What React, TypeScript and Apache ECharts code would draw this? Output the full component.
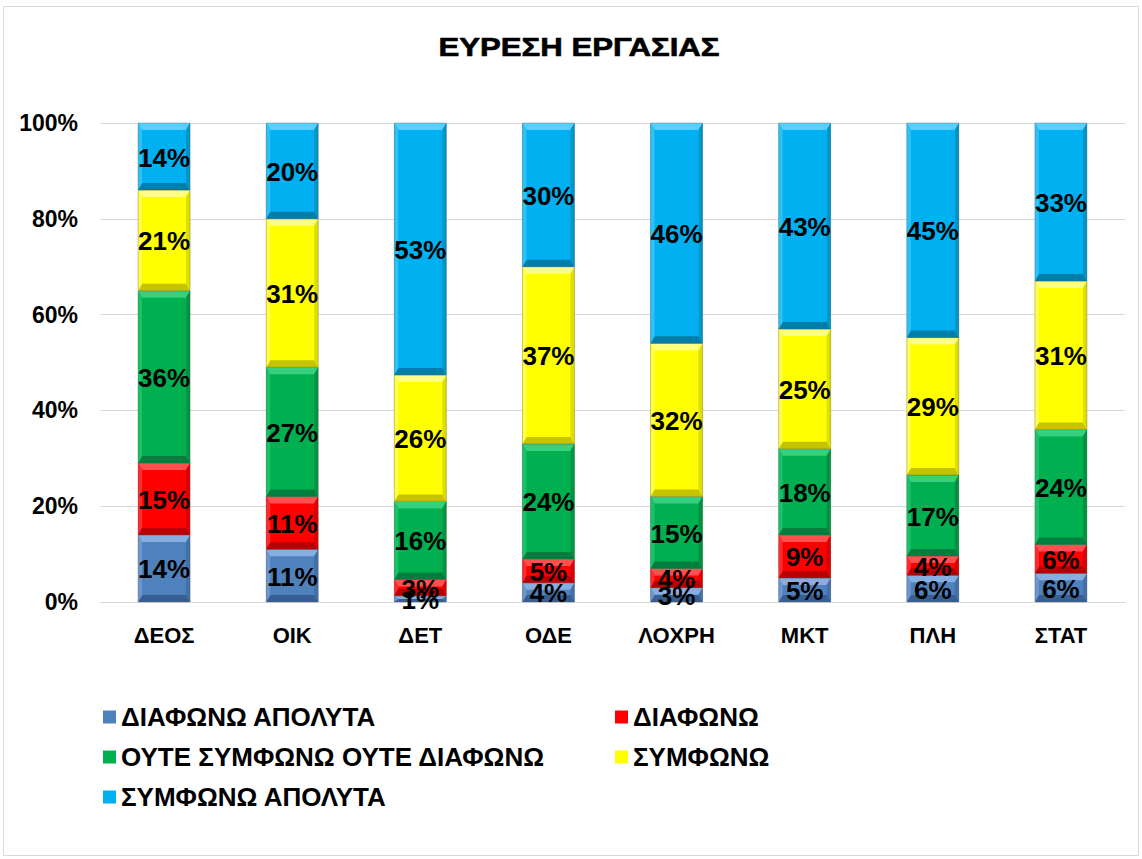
import React, { useEffect, useRef } from "react";
import * as echarts from "echarts";

const categories = ["ΔΕΟΣ", "ΟΙΚ", "ΔΕΤ", "ΟΔΕ", "ΛΟΧΡΗ", "ΜΚΤ", "ΠΛΗ", "ΣΤΑΤ"];
const seriesNames = [
  "ΔΙΑΦΩΝΩ ΑΠΟΛΥΤΑ",
  "ΔΙΑΦΩΝΩ",
  "ΟΥΤΕ ΣΥΜΦΩΝΩ ΟΥΤΕ ΔΙΑΦΩΝΩ",
  "ΣΥΜΦΩΝΩ",
  "ΣΥΜΦΩΝΩ ΑΠΟΛΥΤΑ",
];
const diafonoApolyta = [14, 11, 1.3, 4, 3, 5, 5.6, 6];
const diafono = [15, 11, 3.4, 5, 4, 9, 4.0, 6];
const oute = [36, 27, 16.3, 24, 15, 18, 16.9, 24];
const symfono = [21, 31, 26.4, 37, 32, 25, 28.7, 31];
const symfonoApolyta = [14, 20, 52.6, 30, 46, 43, 44.8, 33];
const yTicks = [0, 20, 40, 60, 80, 100];

const seriesData = [diafonoApolyta, diafono, oute, symfono, symfonoApolyta];
const baseColors = ["#4F81BD", "#FF0000", "#00B050", "#FFFF00", "#00B0F0"];
const lightColors = ["#86AEE0", "#FF5050", "#36D07E", "#FFFF80", "#55D0FF"];
const midLight = ["#6A97CF", "#FF2A2A", "#18C266", "#FFFF4A", "#2CC2F8"];
const darkColors = ["#375F92", "#B80000", "#007E3E", "#C4C400", "#007EAA"];
const midDark = ["#4270A8", "#D80000", "#00943F", "#DEDE00", "#0094C8"];

const FONT = "Arial, 'Liberation Sans', sans-serif";
const BAR_W = 52;

export default function App() {
  const ref = useRef<HTMLDivElement>(null);
  useEffect(() => {
    if (!ref.current) return;
    const chart = echarts.init(ref.current, null, { renderer: "svg" });

    const cumulative = categories.map(() => 0);
    const series = seriesNames.map((name, si) => {
      const data = categories.map((_, ci) => {
        const lo = cumulative[ci];
        const v = seriesData[si][ci];
        cumulative[ci] = lo + v;
        return [ci, lo, lo + v, v];
      });
      return {
        name,
        type: "custom",
        itemStyle: { color: baseColors[si] },
        encode: { x: 0, y: [1, 2] },
        data,
        renderItem: (params: any, api: any) => {
          const cat = api.value(0);
          const lo = api.value(1);
          const hi = api.value(2);
          const v = api.value(3);
          const pBot = api.coord([cat, lo]);
          const pTop = api.coord([cat, hi]);
          const w = BAR_W;
          const x = pBot[0] - w / 2;
          const yT = pTop[1];
          const yB = pBot[1];
          const h = yB - yT;
          const b = Math.min(7, h / 2);
          const s = Math.min(4, w / 2);
          return {
            type: "group",
            children: [
              {
                type: "rect",
                shape: { x, y: yT, width: w, height: h },
                style: { fill: baseColors[si] },
              },
              {
                type: "polygon",
                shape: { points: [[x, yT], [x + w, yT], [x + w - s, yT + b], [x + s, yT + b]] },
                style: { fill: lightColors[si] },
              },
              {
                type: "polygon",
                shape: { points: [[x, yB], [x + w, yB], [x + w - s, yB - b], [x + s, yB - b]] },
                style: { fill: darkColors[si] },
              },
              {
                type: "polygon",
                shape: { points: [[x, yT], [x + s, yT + b], [x + s, yB - b], [x, yB]] },
                style: { fill: midLight[si] },
              },
              {
                type: "polygon",
                shape: { points: [[x + w, yT], [x + w - s, yT + b], [x + w - s, yB - b], [x + w, yB]] },
                style: { fill: midDark[si] },
              },
              {
                type: "rect",
                shape: { x, y: yT, width: w, height: h },
                style: { fill: "none", stroke: "rgba(90,90,90,0.45)", lineWidth: 0.8 },
              },
              {
                type: "text",
                z2: 100,
                x: x + w / 2,
                y: (yT + yB) / 2 + 1,
                style: {
                  text: Math.round(v) + "%",
                  fill: "#000",
                  font: "bold 26px " + FONT,
                  align: "center",
                  verticalAlign: "middle",
                },
              },
            ],
          };
        },
      };
    });

    const legendStyle = {
      orient: "vertical",
      itemWidth: 13,
      itemHeight: 13,
      itemGap: 14,
      icon: "rect",
      textStyle: { fontFamily: FONT, fontWeight: "bold", fontSize: 26, color: "#000" },
    };
    chart.setOption({
      animation: false,
      backgroundColor: "#fff",
      graphic: [
        {
          type: "rect",
          shape: { x: 3.5, y: 6.5, width: 1135, height: 849 },
          style: { fill: "none", stroke: "#d9d9d9", lineWidth: 1 },
          silent: true,
        },
        {
          type: "text",
          x: 579,
          y: 47,
          scaleX: 1.2,
          style: {
            text: "ΕΥΡΕΣΗ ΕΡΓΑΣΙΑΣ",
            fill: "#000",
            font: "bold 26px " + FONT,
            align: "center",
            verticalAlign: "middle",
            stroke: "#000",
            lineWidth: 0.6,
          },
        },
      ],
      legend: [
        { ...legendStyle, left: 98, top: 699, data: [seriesNames[0], seriesNames[2], seriesNames[4]] },
        { ...legendStyle, left: 610, top: 699, data: [seriesNames[1], seriesNames[3]] },
      ],
      grid: { left: 100, right: 17, top: 123, bottom: 257, containLabel: false },
      xAxis: {
        type: "category",
        data: categories,
        axisLine: { lineStyle: { color: "#d9d9d9" } },
        axisTick: { show: false },
        axisLabel: {
          margin: 22,
          fontFamily: FONT,
          fontWeight: "bold",
          fontSize: 22,
          color: "#000",
        },
      },
      yAxis: {
        type: "value",
        min: yTicks[0],
        max: yTicks[yTicks.length - 1],
        interval: 20,
        axisLine: { show: false },
        axisTick: { show: false },
        splitLine: { lineStyle: { color: "#d9d9d9", width: 1 } },
        axisLabel: {
          margin: 22,
          fontFamily: FONT,
          fontWeight: "bold",
          fontSize: 23,
          color: "#000",
          formatter: "{value}%",
        },
      },
      series,
    });
    return () => chart.dispose();
  }, []);
  return (
    <div
      ref={ref}
      style={{ position: "fixed", left: 0, top: 0, width: 1142, height: 859 }}
    />
  );
}
